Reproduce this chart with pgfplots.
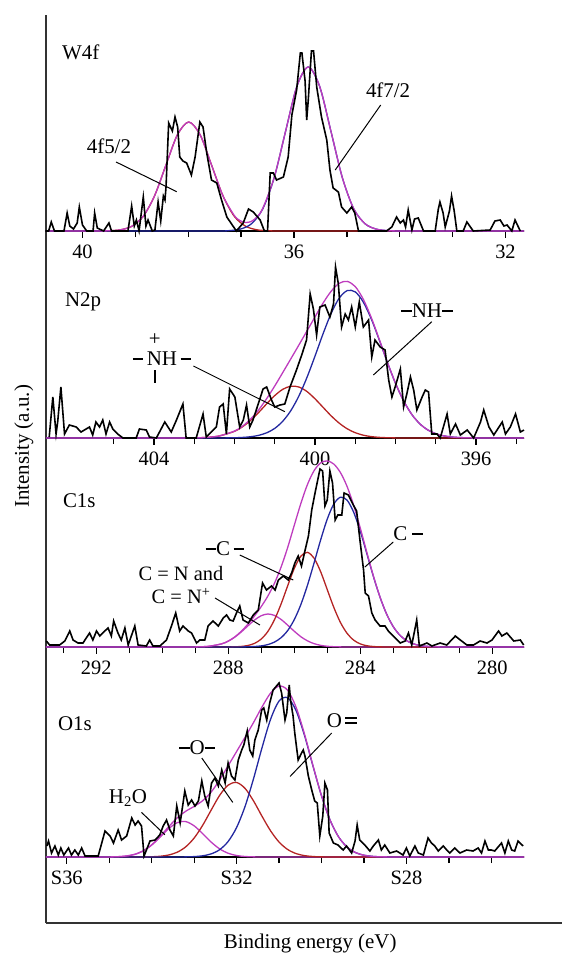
\documentclass[border=0pt]{standalone}
\usepackage{fontspec}
\setmainfont{Liberation Serif}
\usepackage{pgfplots}
\pgfplotsset{compat=1.18}

\definecolor{fitM}{RGB}{190,60,190}
\definecolor{fitR}{RGB}{180,35,35}
\definecolor{fitB}{RGB}{35,40,160}
\newcommand\lbl{\fontsize{21}{24}\selectfont}
\newcommand\dash{\rule[0.3em]{0.5em}{1.7pt}}

\pgfplotsset{
  xps/.style={
    scale only axis, width=478bp, x dir=reverse,
    axis x line=bottom, axis y line=none,
    axis line style={-, line width=1.7bp, black},
    ymin=0, ytick=\empty,
    tick align=outside, major tick length=6.5bp, minor tick length=6bp,
    tick style={black, line width=1.3bp},
    xticklabel style={font=\fontsize{20.5}{23}\selectfont, yshift=-4bp},
    anchor=south west, clip=false,
  },
  raw/.style={black, line width=1.6bp, sharp plot, no marks},
  fit/.style={line width=1.3bp, smooth, no marks},
}
\tikzset{
  note/.style={font=\lbl, inner sep=0pt},
  pointer/.style={black, line width=1bp},
}

\begin{document}
\begin{tikzpicture}
\path[use as bounding box] (0,0) rectangle (562bp,-954bp);

% outer frame with the two axis titles
\begin{axis}[at={(46bp,-923bp)}, anchor=south west, scale only axis,
  width=516bp, height=908bp, axis lines=left,
  axis line style={-, line width=1.6bp, black!80},
  xmin=0, xmax=1, ymin=0, ymax=1, xtick=\empty, ytick=\empty,
  xlabel={Binding energy (eV)}, ylabel={Intensity (a.u.)},
  label style={font=\lbl},
  xlabel style={at={(axis description cs:0.512,-0.0286)}, anchor=base},
  ylabel style={at={(axis description cs:-0.033,0.525)}, anchor=base}]
\end{axis}

% ---- W4f
\begin{axis}[xps, at={(46bp,-231bp)}, height=216bp, ymax=216,
  xmin=31.65, xmax=40.69, xtick={32,36,40}, xticklabels={32,36,40},
  minor xtick={33,34,35,37,38,39}]
\addplot[fit, fitR] coordinates {(40.69,0) (39.71,0.03) (39.495,0.24) (39.28,1.21) (39.065,4.79) (38.85,14.75) (38.635,35.39) (38.42,66.11) (38.205,96.19) (37.99,109) (37.775,96.19) (37.56,66.11) (37.345,35.39) (37.13,14.75) (36.915,4.79) (36.70,1.21) (36.485,0.24) (36.27,0.03) (35.5,0) (33,0) (31.65,0)};
\addplot[fit, fitB] coordinates {(40.69,0) (39,0) (37.45,0.05) (37.235,0.36) (37.02,1.82) (36.805,7.20) (36.59,22.19) (36.375,53.25) (36.16,99.47) (35.945,144.7) (35.73,164) (35.515,144.7) (35.30,99.47) (35.085,53.25) (34.87,22.19) (34.655,7.20) (34.44,1.82) (34.225,0.36) (34.01,0.05) (33.5,0) (31.65,0)};
\addplot[fit, fitM] coordinates {(40.69,0) (40.2,0) (39.71,0.03) (39.495,0.24) (39.28,1.21) (39.065,4.79) (38.85,14.75) (38.635,35.39) (38.42,66.11) (38.205,96.19) (37.99,109) (37.775,96.19) (37.56,66.11) (37.345,35.4) (37.13,15.6) (37.02,10.4) (36.915,8.5) (36.805,9.6) (36.70,14.1) (36.59,22.7) (36.375,53.35) (36.16,99.47) (35.945,144.7) (35.73,164) (35.515,144.7) (35.30,99.47) (35.085,53.25) (34.87,22.19) (34.655,7.20) (34.44,1.82) (34.225,0.36) (34.01,0.05) (33.5,0) (31.65,0)};
\addplot[raw] coordinates {(40.70,0) (40.64,0) (40.59,9) (40.53,0) (40.35,0) (40.29,18) (40.24,5) (40.17,2) (40.10,8) (40.06,24) (40.00,6) (39.92,0) (39.80,0) (39.77,18) (39.72,3) (39.60,0) (39.50,8) (39.45,0) (39.14,0) (39.07,25) (39.02,5) (38.98,11) (38.93,0) (38.85,34) (38.80,5) (38.76,11) (38.68,0) (38.63,1) (38.57,29) (38.52,10) (38.47,35) (38.44,31) (38.42,44) (38.37,108) (38.30,100) (38.25,114) (38.20,104) (38.16,74) (38.10,70) (38.03,68) (37.94,56) (37.87,74) (37.78,109) (37.72,104) (37.65,78) (37.56,51) (37.46,48) (37.37,31) (37.27,14) (37.09,0) (36.96,8) (36.86,22) (36.77,19) (36.64,11) (36.56,0) (36.50,0) (36.45,58) (36.39,58) (36.33,51) (36.20,54) (36.11,74) (36.04,116) (35.95,141) (35.88,178) (35.85,178) (35.79,150) (35.76,111) (35.73,131) (35.67,180) (35.63,180) (35.57,144) (35.48,114) (35.38,91) (35.32,61) (35.26,43) (35.16,39) (35.10,24) (35.00,18) (34.91,24) (34.85,18) (34.78,0) (34.25,0) (34.15,4) (34.06,14) (33.99,8) (33.93,11) (33.89,4) (33.84,21) (33.77,1) (33.72,12) (33.65,13) (33.55,0) (33.33,0) (33.27,22) (33.24,29) (33.18,18) (33.14,4) (33.06,20) (33.02,35) (32.97,20) (32.92,0) (32.80,0) (32.73,9) (32.61,0) (32.29,1) (32.20,10) (32.10,11) (32.03,5) (31.97,6) (31.88,0) (31.82,11) (31.72,0)};
\node[note, anchor=west] at (axis cs:40.39,179) {W4f};
\node[note] at (axis cs:39.50,85) {4f5/2};
\draw[pointer] (axis cs:39.365,69) -- (axis cs:38.217,39.3);
\node[note] at (axis cs:34.22,141) {4f7/2};
\draw[pointer] (axis cs:34.36,126) -- (axis cs:35.22,61);
\end{axis}

% ---- N2p
\begin{axis}[xps, at={(46bp,-438bp)}, height=176bp, ymax=176,
  xmin=394.81, xmax=406.68, xtick={396,400,404}, xticklabels={396,400,404},
  minor xtick={395,397,398,399,401,402,403,405}]
\addplot[fit, fitR] coordinates {(406.68,0) (404.5,0) (403.6,0) (403.2,0.06) (402.8,0.38) (402.4,1.85) (402.0,6.66) (401.8,11.25) (401.6,17.6) (401.4,25.5) (401.2,34.2) (401.0,42.4) (400.8,48.7) (400.6,51.8) (400.4,51.0) (400.2,46.5) (400.0,39.2) (399.8,30.7) (399.6,22.2) (399.4,14.9) (399.2,9.2) (399.0,5.3) (398.8,2.8) (398.6,1.38) (398.4,0.63) (398.2,0.27) (398.0,0.1) (397.6,0) (396,0) (394.81,0)};
\addplot[fit, fitB] coordinates {(406.68,0) (404,0) (402.8,0) (402.4,0.03) (402.0,0.24) (401.8,0.57) (401.6,1.26) (401.4,2.64) (401.2,5.2) (401.0,9.6) (400.8,16.8) (400.6,27.4) (400.4,42.0) (400.2,60.5) (400.0,81.9) (399.8,104.2) (399.6,124.5) (399.4,139.8) (399.2,147.4) (399.0,146.1) (398.8,135.9) (398.6,118.8) (398.4,97.6) (398.2,75.3) (398.0,54.6) (397.8,37.2) (397.6,23.8) (397.4,14.3) (397.2,8.07) (397.0,4.28) (396.8,2.13) (396.6,0.99) (396.4,0.44) (396.0,0.07) (395.6,0) (394.81,0)};
\addplot[fit, fitM] coordinates {(406.68,0) (404.5,0) (403.6,0) (403.2,0.06) (402.8,0.38) (402.4,1.88) (402.0,6.9) (401.8,11.8) (401.6,18.9) (401.4,28.1) (401.2,39.4) (401.0,52.0) (400.8,65.5) (400.6,79.2) (400.4,93.0) (400.2,107.0) (400.0,121.1) (399.8,134.9) (399.6,146.7) (399.4,154.7) (399.2,156.6) (399.0,151.4) (398.8,138.7) (398.6,120.2) (398.4,98.2) (398.2,75.6) (398.0,54.7) (397.8,37.2) (397.6,23.8) (397.4,14.3) (397.2,8.07) (397.0,4.28) (396.8,2.13) (396.6,0.99) (396.4,0.44) (396.0,0.07) (395.6,0) (394.81,0)};
\addplot[raw] coordinates {(406.60,1) (406.51,41) (406.43,4) (406.39,16) (406.31,51) (406.22,4) (406.10,13) (405.93,11) (405.81,6) (405.60,11) (405.52,3) (405.44,16) (405.35,11) (405.27,18) (405.19,4) (405.10,16) (405.02,9) (404.90,4) (404.77,0) (404.44,0) (404.36,9) (404.19,8) (404.11,1) (403.94,0) (403.73,16) (403.65,11) (403.57,6) (403.44,18) (403.28,34) (403.20,0) (402.95,0) (402.78,24) (402.70,1) (402.45,11) (402.37,31) (402.28,34) (402.20,4) (402.12,49) (401.99,41) (401.87,11) (401.78,18) (401.70,33) (401.62,11) (401.54,18) (401.41,34) (401.29,49) (401.20,51) (401.08,38) (401.00,31) (400.87,33) (400.75,34) (400.62,51) (400.46,68) (400.33,83) (400.21,98) (400.12,144) (400.04,129) (399.96,103) (399.88,131) (399.75,133) (399.63,121) (399.54,134) (399.49,171) (399.42,154) (399.34,111) (399.25,124) (399.17,118) (399.09,131) (399.00,111) (398.90,136) (398.80,111) (398.67,118) (398.59,81) (398.51,98) (398.38,91) (398.26,88) (398.17,58) (398.09,41) (398.01,51) (397.88,69) (397.80,31) (397.72,44) (397.63,61) (397.55,48) (397.47,28) (397.34,41) (397.26,48) (397.18,46) (397.10,4) (396.97,4) (396.89,0) (396.72,24) (396.64,4) (396.51,14) (396.39,3) (396.22,8) (396.06,0) (395.89,16) (395.81,28) (395.68,11) (395.56,3) (395.35,16) (395.27,4) (395.15,11) (395.02,24) (394.90,6) (394.81,8)};
\node[note, anchor=west] at (axis cs:406.21,136) {N2p};
\node[note] at (axis cs:403.80,79) {\dash\,NH\,\dash};
\node[note] at (axis cs:403.98,98) {+};
\draw[black, line width=1.8bp] (axis cs:403.98,68) -- (axis cs:403.98,55);
\draw[pointer] (axis cs:403.02,72) -- (axis cs:400.75,26.3);
\node[note] at (axis cs:397.22,127) {\dash NH\dash};
\draw[pointer] (axis cs:397.10,116.3) -- (axis cs:398.55,63);
\end{axis}

% ---- C1s
\begin{axis}[xps, at={(46bp,-647bp)}, height=180bp, ymax=180,
  xmin=279.04, xmax=293.52, xtick={280,284,288,292}, xticklabels={280,284,288,292},
  minor xtick={279,281,282,283,285,286,287,289,290,291,293}]
\addplot[fit, fitM] coordinates {(293.52,0) (291,0) (289.4,0.01) (289.0,0.1) (288.6,0.68) (288.2,3.14) (288.0,5.83) (287.8,9.87) (287.6,15.2) (287.4,21.25) (287.2,27.05) (287.0,31.3) (286.8,33.0) (286.6,31.6) (286.4,27.6) (286.2,21.9) (286.0,15.8) (285.8,10.3) (285.6,6.17) (285.4,3.36) (285.2,1.66) (285.0,0.74) (284.8,0.31) (284.6,0.12) (284.4,0.04) (284.0,0) (281,0) (279.04,0)};
\addplot[fit, fitR] coordinates {(293.52,0) (290,0) (288.6,0) (288.2,0.02) (288.0,0.06) (287.8,0.2) (287.6,0.58) (287.4,1.54) (287.2,3.68) (287.0,7.95) (286.8,15.5) (286.6,27.2) (286.4,42.9) (286.2,61.1) (286.0,78.5) (285.8,90.8) (285.6,94.65) (285.4,88.9) (285.2,75.3) (285.0,57.4) (284.8,39.5) (284.6,24.5) (284.4,13.7) (284.2,6.88) (284.0,3.12) (283.8,1.27) (283.6,0.47) (283.4,0.15) (283.2,0.05) (282.8,0) (281,0) (279.04,0)};
\addplot[fit, fitB] coordinates {(293.52,0) (290,0) (288.4,0) (288.0,0.01) (287.8,0.03) (287.6,0.08) (287.4,0.2) (287.2,0.49) (287.0,1.13) (286.8,2.42) (286.6,4.91) (286.4,9.28) (286.2,16.4) (286.0,27.3) (285.8,42.4) (285.6,61.7) (285.4,84.0) (285.2,107.1) (285.0,127.9) (284.8,143.1) (284.6,149.8) (284.4,146.9) (284.2,134.8) (284.0,115.9) (283.8,93.3) (283.6,70.3) (283.4,49.7) (283.2,32.8) (283.0,20.3) (282.8,11.8) (282.6,6.39) (282.4,3.25) (282.2,1.54) (282.0,0.69) (281.6,0.11) (281.2,0) (279.04,0)};
\addplot[fit, fitM] coordinates {(293.52,0) (291,0) (289.4,0.01) (289.0,0.1) (288.6,0.68) (288.2,3.16) (288.0,5.9) (287.8,10.1) (287.6,15.85) (287.4,23.0) (287.2,31.2) (287.0,40.4) (286.8,50.9) (286.6,63.7) (286.4,79.8) (286.2,99.4) (286.0,121.6) (285.8,143.5) (285.6,162.5) (285.4,176.3) (285.2,184.1) (285.0,186.1) (284.8,182.9) (284.6,174.4) (284.4,160.6) (284.2,141.7) (284.0,119.0) (283.8,94.6) (283.6,70.8) (283.4,49.8) (283.2,32.8) (283.0,20.3) (282.8,11.8) (282.6,6.39) (282.4,3.25) (282.2,1.54) (282.0,0.69) (281.6,0.11) (281.2,0) (279.04,0)};
\addplot[raw] coordinates {(293.51,6) (293.41,2) (293.11,2) (292.95,6) (292.80,16) (292.70,7) (292.55,4) (292.40,4) (292.20,14) (292.10,7) (291.99,16) (291.89,11) (291.74,16) (291.64,19) (291.54,11) (291.47,26) (291.34,14) (291.24,7) (291.13,19) (291.03,2) (290.83,21) (290.73,2) (290.48,1) (290.38,7) (290.28,1) (290.07,1) (289.87,7) (289.72,21) (289.59,34) (289.47,16) (289.37,21) (289.21,16) (289.11,14) (288.96,4) (288.86,7) (288.71,7) (288.61,21) (288.46,26) (288.30,21) (288.15,29) (288.05,32) (287.95,27) (287.85,26) (287.75,34) (287.65,41) (287.55,27) (287.39,24) (287.24,32) (287.09,37) (286.96,64) (286.84,57) (286.69,61) (286.58,57) (286.48,67) (286.33,71) (286.18,67) (286.08,74) (285.98,84) (285.88,91) (285.78,81) (285.67,97) (285.57,111) (285.47,137) (285.37,154) (285.22,178) (285.14,176) (285.07,141) (285.00,147) (284.92,176) (284.84,164) (284.76,127) (284.68,132) (284.56,132) (284.49,154) (284.36,152) (284.21,142) (284.11,136) (284.01,107) (283.90,77) (283.85,54) (283.75,51) (283.65,34) (283.55,27) (283.40,21) (283.25,21) (283.15,16) (283.00,11) (282.79,4) (282.64,6) (282.54,14) (282.44,2) (282.29,27) (282.21,1) (281.98,4) (281.83,1) (281.58,4) (281.38,2) (281.12,11) (280.97,7) (280.77,2) (280.57,2) (280.37,6) (280.16,4) (280.01,7) (279.81,16) (279.71,11) (279.56,14) (279.35,6) (279.15,7) (279.05,2)};
\node[note, anchor=west] at (axis cs:293.01,146) {C1s};
\node[note] at (axis cs:288.10,98) {\dash C\,\dash};
\draw[pointer] (axis cs:287.65,92) -- (axis cs:286.03,67);
\node[note, align=center, font=\fontsize{20.5}{23.5}\selectfont] at (axis cs:289.43,62) {C = N and\\C = N\textsuperscript{+}};
\draw[pointer] (axis cs:288.40,49) -- (axis cs:287.04,22);
\node[note] at (axis cs:282.55,113) {C \dash};
\draw[pointer] (axis cs:283.0,105) -- (axis cs:283.86,80);
\end{axis}

% ---- O1s
\begin{axis}[xps, at={(46bp,-857bp)}, height=180bp, ymax=180,
  xmin=525.23, xmax=536.49, xtick={528,532,536}, xticklabels={S28,S32,S36},
  minor xtick={526,527,529,530,531,533,534,535}]
\addplot[fit, fitM] coordinates {(536.49,0) (535.6,0) (535.2,0.02) (535.0,0.08) (534.8,0.31) (534.6,0.98) (534.4,2.65) (534.2,6.10) (534.0,11.94) (533.8,19.92) (533.6,28.33) (533.4,34.33) (533.2,35.44) (533.0,31.18) (532.8,23.38) (532.6,14.94) (532.4,8.13) (532.2,3.77) (532.0,1.49) (531.8,0.5) (531.6,0.14) (531.4,0.04) (531.0,0) (528,0) (525.23,0)};
\addplot[fit, fitR] coordinates {(536.49,0) (535.5,0) (534.8,0) (534.4,0.02) (534.2,0.07) (534.0,0.25) (533.8,0.75) (533.6,2.0) (533.4,4.78) (533.2,10.11) (533.0,18.99) (532.8,31.67) (532.6,46.87) (532.4,61.61) (532.2,71.91) (532.0,74.52) (531.8,68.58) (531.6,56.0) (531.4,40.65) (531.2,26.19) (531.0,14.96) (530.8,7.6) (530.6,3.43) (530.4,1.37) (530.2,0.49) (530.0,0.15) (529.6,0) (527,0) (525.23,0)};
\addplot[fit, fitB] coordinates {(536.49,0) (535,0) (533.8,0) (533.4,0.04) (533.2,0.13) (533.0,0.41) (532.8,1.2) (532.6,3.12) (532.4,7.31) (532.2,15.5) (532.0,29.5) (531.8,50.7) (531.6,78.5) (531.4,109.5) (531.2,137.7) (531.0,156.0) (530.8,159.3) (530.6,146.5) (530.4,121.5) (530.2,90.8) (530.0,61.2) (529.8,37.1) (529.6,20.3) (529.4,10.0) (529.2,4.45) (529.0,1.78) (528.8,0.64) (528.6,0.21) (528.2,0.01) (527.6,0) (525.23,0)};
\addplot[fit, fitM] coordinates {(536.49,0) (535.6,0) (535.2,0.02) (535.0,0.08) (534.8,0.31) (534.6,0.99) (534.4,2.67) (534.2,6.17) (534.0,12.2) (533.8,20.7) (533.6,30.3) (533.4,39.1) (533.2,45.7) (533.0,50.6) (532.8,56.3) (532.6,64.9) (532.4,77.1) (532.2,91.2) (532.0,105.5) (531.8,119.8) (531.6,134.6) (531.4,150.2) (531.2,163.9) (531.0,171.0) (530.8,166.9) (530.6,149.9) (530.4,122.9) (530.2,91.3) (530.0,61.3) (529.8,37.1) (529.6,20.3) (529.4,10.0) (529.2,4.45) (529.0,1.78) (528.8,0.64) (528.6,0.21) (528.2,0.01) (527.6,0) (525.23,0)};
\addplot[raw] coordinates {(536.47,11) (536.43,16) (536.36,4) (536.28,11) (536.20,2) (536.14,9) (536.07,2) (535.96,9) (535.89,2) (535.81,7) (535.73,2) (535.65,9) (535.57,1) (535.26,1) (535.10,26) (534.98,21) (534.90,14) (534.79,27) (534.71,17) (534.59,21) (534.47,39) (534.39,32) (534.32,36) (534.24,31) (534.18,1) (534.04,16) (533.92,17) (533.81,22) (533.73,31) (533.65,37) (533.57,27) (533.49,21) (533.41,51) (533.33,34) (533.22,66) (533.14,52) (533.06,57) (532.98,51) (532.90,56) (532.82,76) (532.75,61) (532.67,51) (532.59,74) (532.51,79) (532.43,71) (532.35,87) (532.27,74) (532.20,94) (532.12,81) (532.04,77) (531.96,97) (531.88,107) (531.83,112) (531.75,126) (531.69,107) (531.62,101) (531.57,117) (531.49,127) (531.41,147) (531.36,149) (531.29,137) (531.22,154) (531.14,167) (531.06,171) (531.00,174) (530.94,164) (530.86,137) (530.82,144) (530.76,172) (530.73,157) (530.67,141) (530.63,124) (530.55,97) (530.47,104) (530.43,107) (530.39,101) (530.31,81) (530.23,67) (530.16,56) (530.10,54) (530.04,21) (529.97,41) (529.92,74) (529.86,67) (529.82,24) (529.72,14) (529.61,12) (529.49,7) (529.41,11) (529.29,4) (529.21,16) (529.16,32) (529.10,17) (528.98,12) (528.86,6) (528.78,11) (528.66,17) (528.59,7) (528.51,12) (528.39,4) (528.23,6) (528.08,2) (528.00,9) (527.92,1) (527.80,11) (527.72,4) (527.60,2) (527.49,19) (527.41,14) (527.33,11) (527.25,6) (527.13,11) (527.05,7) (526.98,4) (526.86,9) (526.74,4) (526.58,7) (526.43,6) (526.31,9) (526.23,4) (526.15,16) (526.07,7) (526.00,7) (525.92,6) (525.76,14) (525.68,4) (525.60,16) (525.52,7) (525.45,6) (525.37,16) (525.25,11)};
\node[note, anchor=west] at (axis cs:536.21,133) {O1s};
\node[note] at (axis cs:532.93,109) {\dash O\dash};
\draw[pointer] (axis cs:532.82,99) -- (axis cs:532.09,54.6);
\node[note] at (axis cs:534.56,59) {H\textsubscript{2}O};
\draw[pointer] (axis cs:534.24,44.6) -- (axis cs:533.69,22.3);
\node[note] at (axis cs:529.52,136) {O\,\rlap{\rule[0.42em]{0.55em}{1.6pt}}\rule[0.18em]{0.55em}{1.6pt}};
\draw[pointer] (axis cs:529.76,124) -- (axis cs:530.74,80.6);
\end{axis}
\end{tikzpicture}
\end{document}
